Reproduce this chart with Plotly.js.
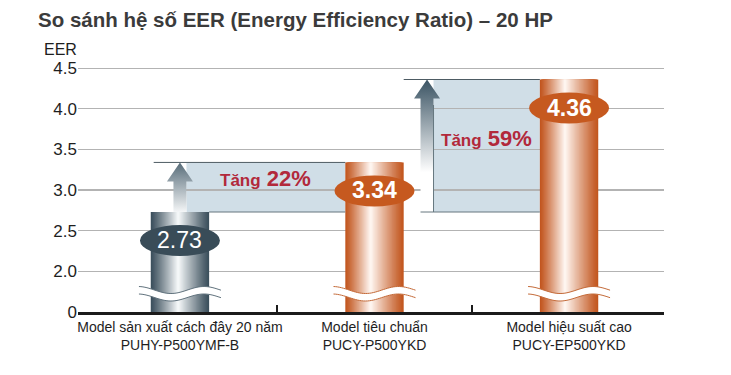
<!DOCTYPE html>
<html><head><meta charset="utf-8">
<script src="https://cdn.plot.ly/plotly-3.0.1.min.js"></script>
<style>body{margin:0;background:#fff}#chart{width:731px;height:375px}</style>
</head><body><div id="chart"></div>
<script>
// ---- data ----
const categories = ['Model sản xuất cách đây 20 năm', 'Model tiêu chuẩn', 'Model hiệu suất cao'];
const modelCodes = ['PUHY-P500YMF-B', 'PUCY-P500YKD', 'PUCY-EP500YKD'];
const eerValues = [2.73, 3.34, 4.36];
const valueLabels = ['2.73', '3.34', '4.36'];
const increaseLabels = ['22%', '59%'];
const yTickVals = [1.5, 2.0, 2.5, 3.0, 3.5, 4.0, 4.5];
const yTickText = ['0', '2.0', '2.5', '3.0', '3.5', '4.0', '4.5'];

// ---- layout constants ----
const PX_X = 194.5, PX_Y = 81.3;       // px per data unit
const W = 0.3;                          // bar width
const xPos = categories.map((_, i) => i);
const edgeCols = ['#3c505d', '#c2561f', '#c2561f'];
const hiCols = ['#f4f7f8', '#fef5ef', '#fef5ef'];
const hiPos = [0.47, 0.43, 0.43];

function hex(c){return [1,3,5].map(i=>parseInt(c.substr(i,2),16));}
function mix(a,b,t){const A=hex(a),B=hex(b);return 'rgb('+A.map((v,i)=>Math.round(v+(B[i]-v)*t)).join(',')+')';}

const traces = [];
const N = 26;
for (let k = 0; k < N; k++) {
  const f = k / N;
  const t = Math.pow(k / (N - 1), 1.1);
  const left = xPos.map((_, i) => -W/2 + f * hiPos[i] * W);
  const right = xPos.map((_, i) => W/2 - f * (1 - hiPos[i]) * W);
  traces.push({
    type: 'bar', x: xPos, y: eerValues,
    width: xPos.map((_, i) => right[i] - left[i]),
    offset: left,
    marker: {color: xPos.map((_, i) => mix(edgeCols[i], hiCols[i], t)), line: {width: 0}},
    hoverinfo: 'skip', showlegend: false
  });
}

// arrows (gradient)
const arrowX = [0, 1.27];
const shaftH = 6.5 / PX_X, headH = 13 / PX_X, headLen = 19 / PX_Y;
const arrowTop = [eerValues[1], eerValues[2]];
const arrowScales = [
  [[0, '#f4f6f7'], [1, '#566b78']],
  [[0, '#ffffff'], [0.3, '#ffffff'], [1, '#3a5363']]
];
arrowX.forEach((xc, j) => {
  const y0 = eerValues[0], y1 = arrowTop[j];
  traces.push({
    type: 'scatter', mode: 'lines',
    x: [xc - shaftH, xc - shaftH, xc - headH, xc, xc + headH, xc + shaftH, xc + shaftH, xc - shaftH],
    y: [y0, y1 - headLen, y1 - headLen, y1, y1 - headLen, y1 - headLen, y0, y0],
    fill: 'toself', line: {width: 0},
    fillgradient: {type: 'vertical', colorscale: arrowScales[j], start: y0, stop: y1},
    hoverinfo: 'skip', showlegend: false
  });
});

const shapes = [];
const bandCol = '#d0dee7', bandLine = '#66777f';
// band 1 (old -> standard)
const b1L = arrowX[0] + shaftH, b1R = 1 - W/2;
shapes.push({type: 'rect', layer: 'below', xref: 'x', yref: 'y', x0: b1L, x1: b1R, y0: eerValues[0], y1: eerValues[1], fillcolor: bandCol, line: {width: 0}});
shapes.push({type: 'line', layer: 'above', xref: 'x', yref: 'y', x0: -W/2 + 0.015, x1: b1R, y0: eerValues[1], y1: eerValues[1], line: {color: '#4d5b63', width: 1}});
shapes.push({type: 'line', layer: 'above', xref: 'x', yref: 'y', x0: W/2, x1: b1R, y0: eerValues[0], y1: eerValues[0], line: {color: bandLine, width: 1}});
// band 2 (old -> high efficiency)
const b2L = arrowX[1] + shaftH, b2R = 2 - W/2;
shapes.push({type: 'rect', layer: 'below', xref: 'x', yref: 'y', x0: b2L, x1: b2R, y0: eerValues[0], y1: eerValues[2], fillcolor: bandCol, line: {width: 0}});
shapes.push({type: 'line', layer: 'above', xref: 'x', yref: 'y', x0: 1 + W/2, x1: b2R, y0: eerValues[2], y1: eerValues[2], line: {color: '#4d5b63', width: 1}});
shapes.push({type: 'line', layer: 'above', xref: 'x', yref: 'y', x0: arrowX[1] - shaftH, x1: b2R, y0: eerValues[0], y1: eerValues[0], line: {color: bandLine, width: 1}});
shapes.push({type: 'line', layer: 'above', xref: 'x', yref: 'y', x0: b2L, x1: b2L, y0: eerValues[0], y1: eerValues[2] - headLen - 0.08, line: {color: bandLine, width: 1}});

// axis-break waves on each bar
const waveCols = ['#5f717c', '#c46a38', '#c46a38'];
function waveY(dx){return 22 - 3.5 * Math.cos(2 * Math.PI * (dx + 9) / 66);}
const dxs = []; for (let d = -41; d <= 41; d += 2) dxs.push(d);
xPos.forEach((xc, i) => {
  const up = dxs.map(d => [d, waveY(d)]);
  const lo = dxs.map(d => [d, waveY(d) - 7.5]);
  const fillPath = 'M' + up.map(p => p[0] + ',' + p[1].toFixed(2)).join('L') + 'L' + lo.slice().reverse().map(p => p[0] + ',' + p[1].toFixed(2)).join('L') + 'Z';
  const base = {type: 'path', layer: 'above', xref: 'x', yref: 'y', xsizemode: 'pixel', ysizemode: 'pixel', xanchor: xc, yanchor: yTickVals[0]};
  shapes.push(Object.assign({}, base, {path: fillPath, fillcolor: '#ffffff', line: {width: 0}}));
  [up, lo].forEach(pts => {
    shapes.push(Object.assign({}, base, {path: 'M' + pts.map(p => p[0] + ',' + p[1].toFixed(2)).join('L'), fillcolor: 'rgba(0,0,0,0)', line: {color: waveCols[i], width: 1}}));
  });
});

// value ellipses
const ellCols = ['#394c58', '#c6591f', '#c6591f'];
xPos.forEach((xc, i) => {
  shapes.push({type: 'circle', layer: 'above', xref: 'x', yref: 'y', xsizemode: 'pixel', ysizemode: 'pixel',
    xanchor: xc, yanchor: eerValues[i], x0: -40, x1: 40, y0: -44, y1: -13, fillcolor: ellCols[i], line: {width: 0}});
});

const annotations = [];
xPos.forEach((xc, i) => {
  annotations.push({x: xc, y: eerValues[i], xref: 'x', yref: 'y', yshift: -28, showarrow: false,
    text: i === 0 ? valueLabels[i] : '<b>' + valueLabels[i] + '</b>',
    font: {family: 'Liberation Sans, Arial, sans-serif', size: 23, color: '#ffffff'}});
});
const bandMids = [[(b1L + b1R) / 2, (eerValues[0] + eerValues[1]) / 2, 9], [(b2L + b2R) / 2, (eerValues[0] + eerValues[2]) / 2, 7]];
bandMids.forEach((m, j) => {
  annotations.push({x: m[0], y: m[1], xref: 'x', yref: 'y', yshift: m[2], showarrow: false,
    text: '<b><span style="font-size:17px">Tăng</span> ' + increaseLabels[j] + '</b>',
    font: {family: 'Liberation Sans, Arial, sans-serif', size: 22, color: '#b2293b'}});
});
annotations.push({xref: 'paper', yref: 'paper', x: -36 / 586, y: 1 + 10.5 / 252, xanchor: 'left', yanchor: 'middle',
  showarrow: false, text: 'EER', font: {family: 'Liberation Sans, Arial, sans-serif', size: 16, color: '#1e1e1e'}});

const layout = {
  width: 731, height: 375,
  margin: {l: 78, r: 67, t: 60, b: 63},
  paper_bgcolor: '#ffffff', plot_bgcolor: '#ffffff',
  barmode: 'overlay', showlegend: false,
  title: {text: 'So sánh hệ số EER (Energy Efficiency Ratio) – 20 HP', xref: 'container', yref: 'container',
    x: 38 / 731, xanchor: 'left', y: 1 - 20 / 375, yanchor: 'middle',
    font: {family: 'Liberation Sans, Arial, sans-serif', size: 20.5, weight: 700, color: '#3b3b3b'}},
  xaxis: {
    range: [-0.524, 2.488], tickmode: 'array', tickvals: xPos,
    ticktext: xPos.map(i => categories[i] + '<br>' + modelCodes[i]),
    ticks: '', showgrid: false, zeroline: false,
    showline: true, linecolor: '#1b1b1b', linewidth: 3,
    tickfont: {family: 'Liberation Sans, Arial, sans-serif', size: 14, color: '#1e1e1e'},
    minor: {tickmode: 'array', tickvals: [0.5, 1.5], ticks: 'inside', ticklen: 7, tickwidth: 1.5, tickcolor: '#1b1b1b', showgrid: false},
    fixedrange: true
  },
  yaxis: {
    range: [1.5, 4.6], tickmode: 'array', tickvals: yTickVals, ticktext: yTickText,
    showgrid: true, gridcolor: '#b3b3b3', gridwidth: 1.2, zeroline: false, showline: false, ticks: '',
    tickfont: {family: 'Liberation Sans, Arial, sans-serif', size: 17, color: '#1e1e1e'},
    fixedrange: true
  },
  shapes: shapes, annotations: annotations
};
Plotly.newPlot('chart', traces, layout, {displayModeBar: false, staticPlot: true});
</script>
</body></html>
